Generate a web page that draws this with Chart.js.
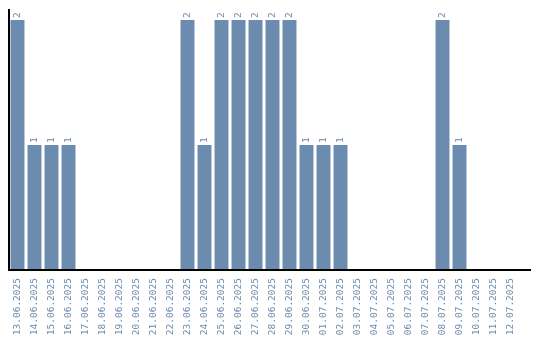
<!DOCTYPE html>
<html>
<head>
<meta charset="utf-8">
<script src="https://cdn.jsdelivr.net/npm/chart.js@4/dist/chart.umd.min.js"></script>
<style>
  html, body { margin: 0; padding: 0; background: #fff; }
  #wrap { width: 540px; height: 340px; }
</style>
</head>
<body>
<div id="wrap"><canvas id="chart"></canvas></div>
<script>
'use strict';
//___________DATA__________________
var days = [
  '13.06.2025', '14.06.2025', '15.06.2025', '16.06.2025', '17.06.2025',
  '18.06.2025', '19.06.2025', '20.06.2025', '21.06.2025', '22.06.2025',
  '23.06.2025', '24.06.2025', '25.06.2025', '26.06.2025', '27.06.2025',
  '28.06.2025', '29.06.2025', '30.06.2025', '01.07.2025', '02.07.2025',
  '03.07.2025', '04.07.2025', '05.07.2025', '06.07.2025', '07.07.2025',
  '08.07.2025', '09.07.2025', '10.07.2025', '11.07.2025', '12.07.2025'
];
var counts = [2, 1, 1, 1, 0, 0, 0, 0, 0, 0,
              2, 1, 2, 2, 2, 2, 2, 1, 1, 1,
              0, 0, 0, 0, 0, 2, 1, 0, 0, 0];

var barColor = '#6b8cae';
var textColor = '#6a8aab';
var monoFont = 'DejaVu Sans Mono';

//___________VALUE LABELS (rotated, above bars)__________________
var valueLabels = {
  id: 'valueLabels',
  afterDatasetsDraw: function(chart) {
    var ctx = chart.ctx;
    var meta = chart.getDatasetMeta(0);
    ctx.save();
    ctx.fillStyle = textColor;
    ctx.font = '9.5px ' + monoFont;
    ctx.textAlign = 'left';
    ctx.textBaseline = 'middle';
    meta.data.forEach(function(bar, i) {
      if (!counts[i]) return;
      ctx.save();
      ctx.translate(bar.x, bar.y - 2);
      ctx.rotate(-Math.PI / 2);
      ctx.fillText(String(counts[i]), 0, 0);
      ctx.restore();
    });
    ctx.restore();
  }
};

// the baseline runs a bit past the last bar
var baseLine = {
  id: 'baseLine',
  afterDraw: function(chart) {
    var a = chart.chartArea;
    var ctx = chart.ctx;
    ctx.save();
    ctx.strokeStyle = '#000';
    ctx.lineWidth = 2;
    ctx.beginPath();
    ctx.moveTo(a.left, a.bottom);
    ctx.lineTo(531, a.bottom);
    ctx.stroke();
    ctx.restore();
  }
};

var ctx = document.getElementById('chart').getContext('2d');
new Chart(ctx, {
  type: 'bar',
  data: {
    labels: days,
    datasets: [{
      data: counts,
      backgroundColor: barColor,
      borderWidth: 0,
      barPercentage: 0.82,
      categoryPercentage: 1
    }]
  },
  options: {
    responsive: true,
    maintainAspectRatio: false,
    animation: false,
    layout: { padding: { left: 1, right: 21, top: 10, bottom: 0 } },
    plugins: {
      legend: { display: false },
      tooltip: { enabled: false }
    },
    scales: {
      x: {
        afterFit: function(scale) { scale.height = 70; },
        grid: { display: false },
        border: { color: '#000', width: 2 },
        ticks: {
          color: textColor,
          font: { family: monoFont, size: 9.5 },
          minRotation: 90,
          maxRotation: 90,
          autoSkip: false,
          padding: 0
        }
      },
      y: {
        min: 0,
        max: 2.08,
        grid: { display: false },
        border: { color: '#000', width: 2 },
        ticks: { display: false }
      }
    }
  },
  plugins: [valueLabels, baseLine]
});
</script>
</body>
</html>
